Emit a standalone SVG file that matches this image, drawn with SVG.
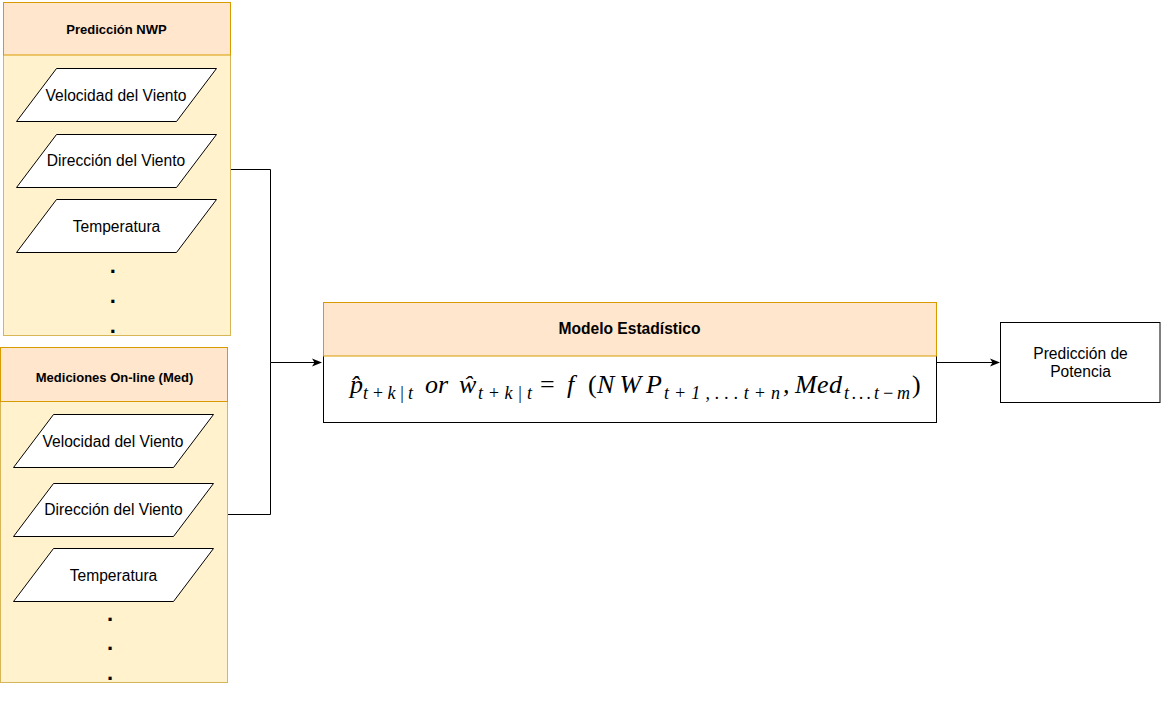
<svg xmlns="http://www.w3.org/2000/svg" width="1161" height="711" viewBox="0 0 1161 711">
<defs>
<style>
.body{fill:#fff2cc;stroke:#d6b656;stroke-width:1}
.head{fill:#ffe6cc;stroke:#d79b00;stroke-width:1}
.para{fill:#ffffff;stroke:#000000;stroke-width:1}
.box{fill:#ffffff;stroke:#000000;stroke-width:1}
.lbl{font-family:"Liberation Sans",Arial,Helvetica,sans-serif;font-size:15.6px;fill:#000;text-anchor:middle}
.hdr{font-family:"Liberation Sans",Arial,Helvetica,sans-serif;font-size:13px;font-weight:bold;fill:#000;text-anchor:middle}
.hdr2{font-family:"Liberation Sans",Arial,Helvetica,sans-serif;font-size:15.6px;font-weight:bold;fill:#000;text-anchor:middle}
.dot{font-family:"Liberation Sans",Arial,sans-serif;font-size:22px;font-weight:bold;fill:#000;text-anchor:middle}
.math{font-family:"Liberation Serif","Times New Roman",serif;font-size:26px;font-style:italic;fill:#000}
.sub{font-size:18px}
.up{font-style:normal}
.edge{fill:none;stroke:#000;stroke-width:1}
</style>
<marker id="arr" viewBox="0 0 10 10" refX="9" refY="5" markerWidth="10" markerHeight="10" markerUnits="userSpaceOnUse" orient="auto">
<path d="M0,1 L10,5 L0,9 L2.5,5 Z" fill="#000"/>
</marker>
</defs>

<g id="connectors">
<path class="edge" d="M230.5,169.5 H270.5 V362.5 H321" marker-end="url(#arr)"/>
<path class="edge" d="M227.5,514.5 H270.5 V362.5"/>
<path class="edge" d="M936.5,362.5 H999" marker-end="url(#arr)"/>
</g>

<g id="prediccion-nwp">
<rect class="body" x="3.5" y="2.5" width="227" height="333"/>
<rect class="head" x="3.5" y="2.5" width="227" height="52.5"/>
<text class="hdr" x="116.5" y="34.3">Predicción NWP</text>
<g id="nwp-velocidad">
<polygon class="para" points="56.5,68.5 216.5,68.5 176.5,121.5 16.5,121.5"/>
<text class="lbl" x="116" y="100.7">Velocidad del Viento</text>
</g>
<g id="nwp-direccion">
<polygon class="para" points="56.5,134.5 216.5,134.5 176.5,187.5 16.5,187.5"/>
<text class="lbl" x="116" y="166">Dirección del Viento</text>
</g>
<g id="nwp-temperatura">
<polygon class="para" points="56.5,199.5 216.5,199.5 176.5,252.5 16.5,252.5"/>
<text class="lbl" x="116.5" y="231.5">Temperatura</text>
</g>
<text class="dot" x="112.7" y="273.3">.</text>
<text class="dot" x="112.7" y="303.3">.</text>
<text class="dot" x="112.7" y="332.7">.</text>
</g>

<g id="mediciones-online">
<rect class="body" x="0.5" y="347.5" width="227" height="335"/>
<rect class="head" x="0.5" y="347.5" width="227" height="54"/>
<text class="hdr" x="114.5" y="381.5">Mediciones On-line (Med)</text>
<g id="med-velocidad">
<polygon class="para" points="53.5,414.5 213.5,414.5 173.5,467.5 13.5,467.5"/>
<text class="lbl" x="113" y="446.7">Velocidad del Viento</text>
</g>
<g id="med-direccion">
<polygon class="para" points="53.5,483.5 213.5,483.5 173.5,536.5 13.5,536.5"/>
<text class="lbl" x="113.5" y="515">Dirección del Viento</text>
</g>
<g id="med-temperatura">
<polygon class="para" points="53.5,548.5 213.5,548.5 173.5,601.5 13.5,601.5"/>
<text class="lbl" x="113.5" y="580.7">Temperatura</text>
</g>
<text class="dot" x="110" y="621">.</text>
<text class="dot" x="110" y="650.3">.</text>
<text class="dot" x="110" y="679.7">.</text>
</g>

<g id="modelo-estadistico">
<rect class="box" x="323.5" y="302.5" width="613" height="120"/>
<rect class="head" x="323.5" y="302.5" width="613" height="53.5"/>
<text class="hdr2" x="629.5" y="334">Modelo Estadístico</text>
<text class="math" y="393"><tspan x="350">p&#x302;</tspan><tspan class="sub" x="363" y="399" textLength="50" lengthAdjust="spacing">t+k|t</tspan><tspan x="425" y="393">or</tspan><tspan x="459">&#x175;</tspan><tspan class="sub" x="478" y="399" textLength="54" lengthAdjust="spacing">t+k|t</tspan><tspan class="up" x="540" y="393">=</tspan><tspan x="567">f</tspan><tspan class="up" x="588">(</tspan><tspan x="597" textLength="65" lengthAdjust="spacing">NWP</tspan><tspan class="sub" x="664" y="399" textLength="116" lengthAdjust="spacing">t+1,...t+n</tspan><tspan x="783" y="393">,</tspan><tspan x="795" textLength="47" lengthAdjust="spacing">Med</tspan><tspan class="sub" x="844" y="399" textLength="66" lengthAdjust="spacing">t...t&#x2212;m</tspan><tspan class="up" x="912" y="393">)</tspan></text>
</g>

<g id="prediccion-potencia">
<rect class="box" x="1000.5" y="322.5" width="159.5" height="80"/>
<text class="lbl" x="1080.5" y="358.6">Predicción de</text>
<text class="lbl" x="1080.5" y="377.2">Potencia</text>
</g>
</svg>
